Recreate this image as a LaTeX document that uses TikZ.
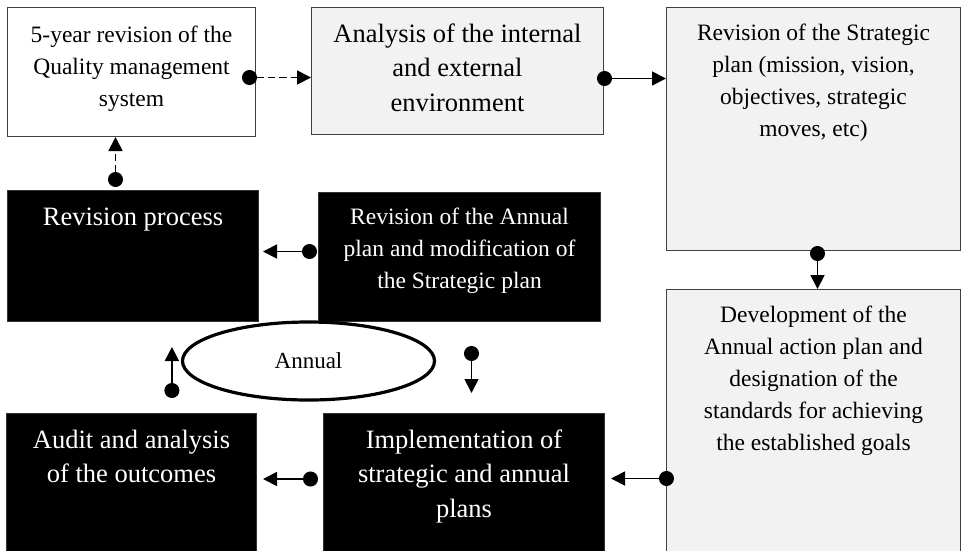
\documentclass[tikz,border=0pt]{standalone}
\usepackage{fontspec}
\setmainfont{Liberation Serif}
\usetikzlibrary{arrows.meta,calc,shapes.geometric}
\definecolor{panel}{HTML}{F2F2F2}
\definecolor{rim}{HTML}{404040}

\begin{document}
\begin{tikzpicture}[x=1pt,y=-1pt,
  boxbase/.style={rectangle, draw=rim, line width=1pt, anchor=north west, inner sep=0pt},
  lightbox/.style={boxbase, fill=white},
  greybox/.style={boxbase, fill=panel},
  darkbox/.style={boxbase, fill=black, draw=black!80},
  bigtext/.style={anchor=north, inner sep=0pt, align=center, font=\fontsize{26.5}{34.5}\selectfont},
  smalltext/.style={anchor=north, inner sep=0pt, align=center, font=\fontsize{23.5}{32}\selectfont},
  link/.style={line width=1.8pt, {Circle[length=15pt]}-{Triangle[length=14pt,width=14pt]}},
  dashlink/.style={link, dash pattern=on 7.5pt off 4pt},
]
\useasboundingbox (0,0) rectangle (961,550);
\clip (0,0) rectangle (961,550);

% boxes
\node[lightbox, minimum width=248pt, minimum height=129pt] (b1) at (7,7) {};
\node[greybox,  minimum width=292pt, minimum height=127pt] (b2) at (311,7) {};
\node[greybox,  minimum width=294pt, minimum height=243pt] (b3) at (666,7) {};
\node[darkbox,  minimum width=251pt, minimum height=131pt] (b4) at (7,190) {};
\node[darkbox,  minimum width=282pt, minimum height=129pt] (b5) at (318,192) {};
\node[greybox,  minimum width=294pt, minimum height=275pt] (b6) at (666,289) {};
\node[darkbox,  minimum width=250pt, minimum height=150pt] (b7) at (6,413) {};
\node[darkbox,  minimum width=281pt, minimum height=150pt] (b8) at (323,413) {};

% box texts, set from the top of each box
\node[smalltext] (t1) at ($(b1.north)+(0,12.5)$) {\strut 5-year revision of the\\Quality management\\system};
\node[bigtext]   (t2) at ($(b2.north)+(0,11)$) {\strut Analysis of the internal\\and external\\environment};
\node[smalltext] (t3) at ($(b3.north)+(0,10.6)$) {\strut Revision of the Strategic\\plan (mission, vision,\\objectives, strategic\\moves, etc)};
\node[bigtext, text=white]   (t4) at ($(b4.north)+(0,11)$) {\strut Revision process};
\node[smalltext, text=white] (t5) at ($(b5.north)+(0,9.6)$) {\strut Revision of the Annual\\plan and modification of\\the Strategic plan};
\node[smalltext] (t6) at ($(b6.north)+(0,10.6)$) {\strut Development of the\\Annual action plan and\\designation of the\\standards for achieving\\the established goals};
\node[bigtext, text=white]   (t7) at ($(b7.north)+(0,11)$) {\strut Audit and analysis\\of the outcomes};
\node[bigtext, text=white]   (t8) at ($(b8.north)+(0,11)$) {\strut Implementation of\\strategic and annual\\plans};

% cycle marker
\node[ellipse, draw, line width=3.2pt, minimum width=252pt, minimum height=78pt, inner sep=0pt,
      font=\fontsize{23}{28}\selectfont] (ell) at (308.5,361) {Annual};

% connectors
\draw[dashlink] ($(b1.east)+(-14,5.5)$) -- ($(b2.west)+(0,6.5)$);
\draw[link] ($(b2.east)+(-7,7.5)$) -- ($(b3.west)+(0,-50.5)$);
\draw[link] ($(b3.south)+(4,-5)$) -- ($(b6.north)+(4,0)$);
\draw[link] ($(b6.west)+(8,51.5)$) -- ($(b8.east)+(6,-10)$);
\draw[link] ($(b8.west)+(-5,-9.5)$) -- ($(b7.east)+(6,-9.5)$);
\draw[link] ($(b5.west)+(-1,-5.5)$) -- ($(b4.east)+(4,-4.5)$);
\draw[link] ($(b5.south)+(12,24)$) -- ($(b8.north)+(7.5,-20)$);
\draw[link] ($(ell.west)+(-9,37)$) -- ($(ell.west)+(-9,-14)$);
\draw[dashlink] ($(b4.north)+(-17.5,-3)$) -- ($(b1.south)+(-16,0)$);
\end{tikzpicture}
\end{document}
